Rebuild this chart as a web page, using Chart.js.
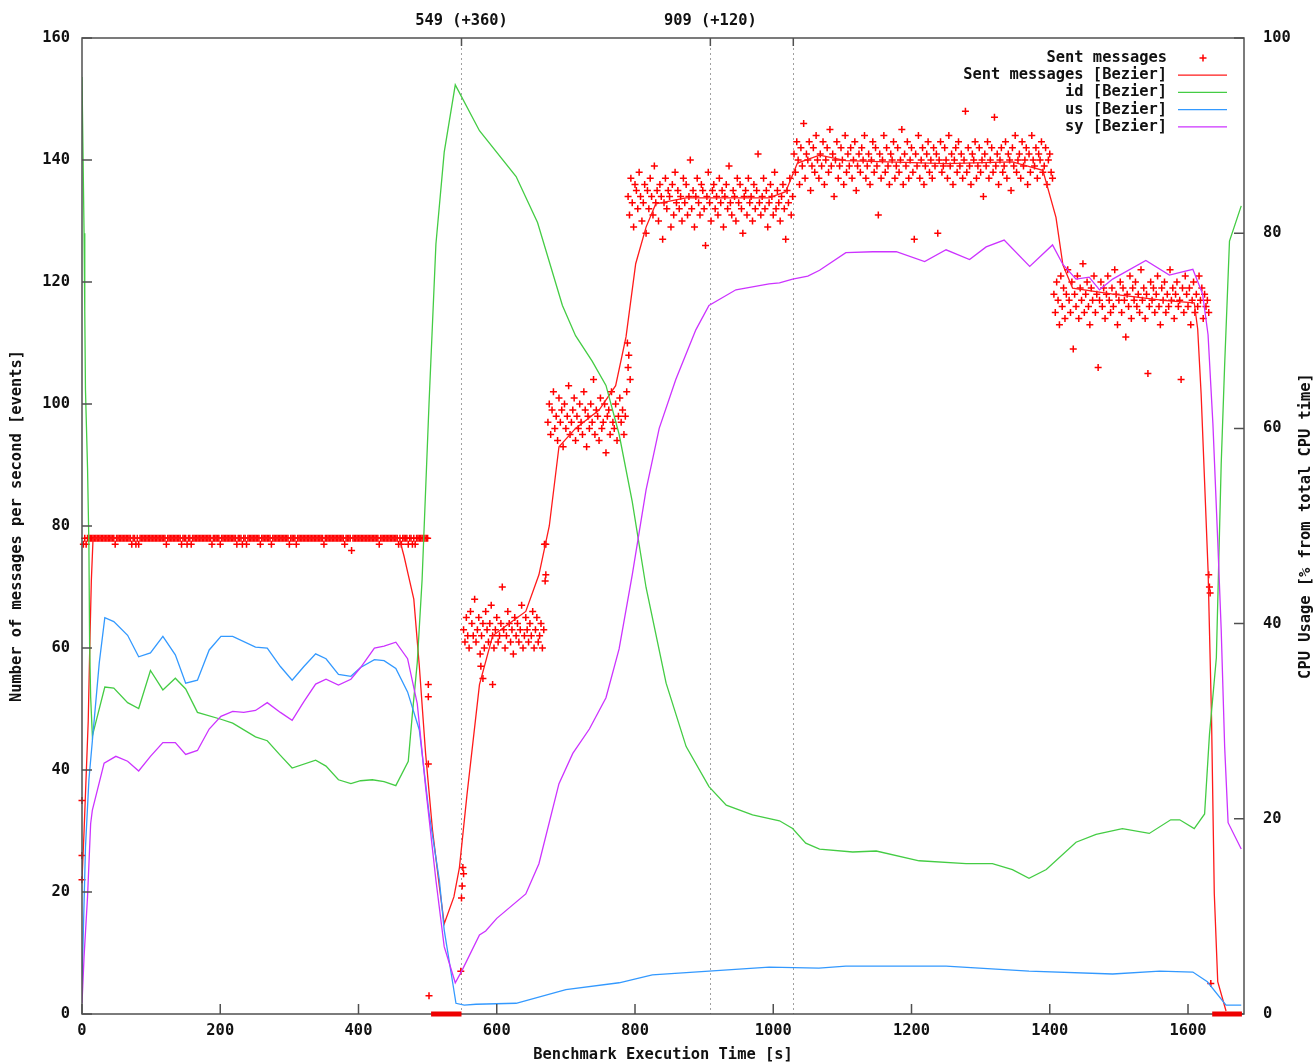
<!DOCTYPE html>
<html>
<head>
<meta charset="utf-8">
<script src="https://cdn.jsdelivr.net/npm/chart.js"></script>
<style>
  body { margin: 0; background: #fff; }
  #wrap { width: 1315px; height: 1064px; position: relative; }
</style>
</head>
<body>
<div id="wrap"><canvas id="bench"></canvas></div>

<script>
// sent messages, one sample every 2 s, one array per load step
var sentStep = 2;
var sentPhaseStart = [2, 552, 674, 790, 1030, 1406];

var sentFlat = [
  77,78,77,78,78,78,78,78,78,78,78,78,78,78,78,78,78,78,78,78,78,78,78,77,78,
  78,78,78,78,78,78,78,78,78,78,77,78,78,77,78,77,78,78,78,78,78,78,78,78,78,
  78,78,78,78,78,78,78,78,78,78,77,78,78,78,78,78,78,78,78,78,78,77,78,78,78,
  77,78,78,77,78,78,78,78,78,78,78,78,78,78,78,78,78,78,77,78,78,78,78,78,77,
  78,78,78,78,78,78,78,78,78,78,78,77,78,78,78,77,78,78,77,78,78,78,78,78,78,
  78,78,78,77,78,78,78,78,78,78,78,77,78,78,78,78,78,78,78,78,78,78,78,78,77,
  78,78,78,78,77,78,78,78,78,78,78,78,78,78,78,78,78,78,78,78,78,78,78,78,77,
  78,78,78,78,78,78,78,78,78,78,78,78,78,78,77,78,78,78,78,76,78,78,78,78,78,
  78,78,78,78,78,78,78,78,78,78,78,78,78,78,77,78,78,78,78,78,78,78,78,78,78,
  78,78,78,77,78,77,78,78,78,78,77,78,78,77,78,77,78,78,78,78,78,78,78,78,78
];
var sentLoad1 = [
  63,61,65,62,60,66,64,62,68,61,63,65,59,62,64,60,66,63,61,64,
  67,62,60,63,65,61,62,64,70,63,60,62,66,64,61,63,59,65,62,64,
  61,63,67,60,62,65,63,61,64,62,66,60,63,65,61,62,64,60,63
];
var sentLoad2 = [
  97,100,95,99,102,96,98,94,101,97,99,93,100,96,98,103,95,97,99,101,
  94,98,96,100,97,95,102,99,93,98,96,100,97,104,95,99,98,94,101,96,
  97,100,92,98,99,95,102,97,96,100,94,98,101,97,99,95,98
];
var sentLoad3 = [
  134,131,137,133,129,136,135,132,138,134,130,133,136,128,135,132,137,134,131,139,
  133,135,130,136,134,127,133,137,132,135,134,129,136,131,138,133,135,132,134,130,
  137,133,136,131,134,140,132,135,129,134,137,133,131,136,135,132,126,134,138,133,
  130,135,136,132,134,131,137,133,135,129,134,136,132,139,133,131,135,134,130,137,
  133,136,132,128,134,135,131,137,133,134,130,136,132,135,141,133,131,134,137,132,
  135,129,133,136,134,131,138,132,135,133,130,134,136,132,127,135,133,137,131,134
];
var sentLoad4 = [
  141,138,143,140,136,142,139,146,137,141,140,143,135,139,142,138,144,140,137,141,
  139,143,136,140,142,138,145,139,141,134,140,143,137,139,142,140,136,144,138,141,
  139,142,137,140,143,135,139,141,138,142,140,144,137,139,141,136,140,143,138,142,
  139,131,141,137,140,144,138,142,139,136,141,140,143,137,139,142,138,140,145,136,
  141,139,143,137,140,142,138,127,141,139,144,137,140,142,136,139,141,143,138,140,
  137,142,139,141,128,140,143,138,139,142,140,137,144,139,141,136,140,142,138,143,
  139,141,137,140,148,138,142,139,136,141,140,143,137,139,142,138,140,134,141,139,
  143,137,140,142,138,147,139,141,136,140,142,138,139,143,137,141,140,135,142,139,
  144,138,140,141,137,143,139,140,142,136,141,138,144,140,139,142,137,141,140,143,
  138,139,142,136,140,141,138,137
];
var sentLoad5 = [
  118,115,120,117,113,121,116,119,114,118,122,117,115,120,109,118,116,121,114,119,
  117,123,115,118,120,116,113,119,117,121,115,118,106,117,120,116,119,114,118,121,
  117,115,119,116,122,118,113,117,120,115,119,117,111,118,116,121,114,119,117,120,
  116,118,115,122,117,119,114,118,105,116,120,117,119,115,118,121,116,113,119,117,
  120,115,118,116,122,117,119,114,118,120,116,117,104,119,115,121,118,116,119,113,
  117,120,115,118,116,121,117,119,114,118,116,117,115
];
// single readings outside the regular steps
var sentExtraTime  = [0, 0, 0, 501, 501, 501, 502, 548, 549, 550, 551, 552, 577, 580, 594, 669, 670, 671, 671, 788, 789, 790, 791, 793, 1630, 1631, 1632, 1633];
var sentExtraValue = [22, 26, 35, 54, 52, 41, 3, 7, 19, 21, 24, 23, 57, 55, 54, 77, 71, 77, 72, 102, 110, 106, 108, 104, 72, 70, 69, 5];

var sentBezierTime  = [0,3,9,11.6,13.5,16,459,466,472,480,488,497,507,517,524,538,546,557,575,594,618,642,661,676,690,714,748,772,787,801,816,830,874,922,994,1018,1035,1067,1105,1250,1346,1390,1409,1419,1433,1491,1564,1609,1614,1619,1624,1629,1634,1638,1643,1655];
var sentBezierValue = [22,30,48,62,71,78,78,75,72,68,57,42.8,30.2,20.9,14.8,19.2,24,36,54,62,64,66,72,80,93,96,99,103,111,123,129,132.8,133.8,133.8,133.8,134.8,139.5,140.8,139.9,139.4,139.7,138.3,130.6,122.8,119,118,117,116.6,112.3,101.6,87.2,72.8,48.7,19.8,5.3,0.5];

// CPU usage in percent
var idTime  = [0,3,4,5,8,10,11,12.5,15,33,46,66,82,99,117,135,150,167,201,218,251,268,287,304,338,353,371,389,403,420,437,454,472,478,485,492,502,512,524,540,575,628,659,695,714,738,758,777,796,816,845,874,907,932,970,1009,1028,1047,1067,1115,1149,1211,1279,1317,1346,1370,1395,1438,1467,1505,1544,1575,1588,1609,1624,1631,1641,1648,1653,1660,1677];
var idValue = [96,80,72,64,56,48,38,32.5,28.5,33.5,33.4,31.9,31.3,35.2,33.2,34.4,33.3,30.9,30.2,29.8,28.4,28.0,26.5,25.2,26.0,25.4,24.0,23.6,23.9,24.0,23.8,23.4,25.9,30.8,36.0,44.5,62.5,78.9,88.3,95.2,90.5,85.8,81.1,72.6,69.5,66.9,64.4,59.4,52.5,43.7,33.9,27.4,23.3,21.4,20.4,19.8,19.0,17.5,16.9,16.6,16.7,15.7,15.4,15.4,14.8,13.9,14.8,17.6,18.4,19.0,18.5,19.9,19.9,19.0,20.5,28.6,36.5,56.3,66.5,79.2,82.8];

var usTime  = [0,5,10,15,25,33,46,66,82,99,117,135,150,167,184,201,218,251,268,287,304,321,338,353,371,389,403,423,437,454,471,488,502,517,524,534,541,553,570,628,700,777,825,907,994,1066,1105,1250,1370,1491,1559,1607,1628,1655,1677];
var usValue = [3,17,24,28,36,40.6,40.2,38.8,36.6,37.0,38.7,36.8,33.9,34.2,37.3,38.7,38.7,37.6,37.5,35.6,34.2,35.6,36.9,36.4,34.8,34.6,35.5,36.3,36.2,35.4,33.0,29.1,20.6,13.7,8.6,4.2,1.1,0.9,1.0,1.1,2.5,3.2,4.0,4.4,4.8,4.7,4.9,4.9,4.4,4.1,4.4,4.3,3.3,0.9,0.9];

var syTime  = [0,3,8,12.5,15,32,49,66,82,99,117,135,150,167,184,201,218,234,251,268,287,304,321,338,353,371,389,403,423,437,454,471,485,497,512,524,540,550,575,584,600,642,661,690,710,734,758,777,796,816,835,859,888,907,946,994,1009,1028,1050,1067,1105,1144,1178,1219,1250,1284,1308,1334,1371,1404,1419,1438,1457,1472,1491,1539,1573,1607,1621,1629,1636,1643,1648,1653,1658,1677];
var syValue = [1.1,5.9,12.0,19.5,20.9,25.7,26.4,25.9,24.9,26.4,27.8,27.8,26.6,27.0,29.2,30.5,31.0,30.9,31.1,31.9,30.9,30.1,32.0,33.8,34.3,33.7,34.3,35.5,37.5,37.7,38.1,36.4,31.8,23.3,13.7,6.9,3.2,4.5,8.1,8.5,9.8,12.3,15.4,23.6,26.7,29.2,32.4,37.4,45.0,53.7,60.0,65.0,70.1,72.6,74.2,74.8,74.9,75.3,75.6,76.2,78.0,78.1,78.1,77.1,78.3,77.3,78.6,79.3,76.6,78.8,76.8,75.3,75.5,74.2,75.3,77.2,75.7,76.3,73.8,69.6,60.5,48.5,39.4,27.4,19.6,16.9];

// phase markers on the top axis and idle periods on the bottom
var markerTime  = [549, 909, 1029];
var markerLabel = ['549 (+360)', '909 (+120)', ''];
var idleStart = [505, 1635];
var idleEnd   = [549, 1678];

var RED = '#ff1a1a', GREEN = '#44cc44', BLUE = '#3399ff', PURPLE = '#cc33ff';
var FONT = 'bold 15.4px "DejaVu Sans Mono", monospace';
var INK = '#111';
var BORDER = '#505050';

function pairs(t, v) {
  return t.map(function(x, i) { return { x: x, y: v[i] }; });
}

var sentPoints = [];
[sentFlat, sentLoad1, sentLoad2, sentLoad3, sentLoad4, sentLoad5].forEach(function(arr, p) {
  arr.forEach(function(v, k) {
    sentPoints.push({ x: sentPhaseStart[p] + k * sentStep, y: v });
  });
});
sentExtraTime.forEach(function(t, i) {
  sentPoints.push({ x: t, y: sentExtraValue[i] });
});

var legendRows = [
  { label: 'Sent messages', color: '#ff0000', cross: true },
  { label: 'Sent messages [Bezier]', color: RED },
  { label: 'id [Bezier]', color: GREEN },
  { label: 'us [Bezier]', color: BLUE },
  { label: 'sy [Bezier]', color: PURPLE }
];

var gnuplotFrame = {
  id: 'gnuplotFrame',
  beforeDatasetsDraw: function(chart) {
    var ctx = chart.ctx, a = chart.chartArea, x = chart.scales.x;
    ctx.save();
    ctx.strokeStyle = '#a0a0a0';
    ctx.lineWidth = 1;
    ctx.setLineDash([2, 3]);
    markerTime.forEach(function(t) {
      var px = Math.round(x.getPixelForValue(t)) + 0.5;
      ctx.beginPath();
      ctx.moveTo(px, a.top);
      ctx.lineTo(px, a.bottom);
      ctx.stroke();
    });
    ctx.restore();
  },
  afterDraw: function(chart) {
    var ctx = chart.ctx, a = chart.chartArea;
    var x = chart.scales.x, y = chart.scales.y, y1 = chart.scales.y1;
    ctx.save();

    // frame and inward ticks
    ctx.strokeStyle = BORDER;
    ctx.lineWidth = 1.5;
    ctx.strokeRect(a.left, a.top, a.right - a.left, a.bottom - a.top);
    ctx.beginPath();
    x.ticks.forEach(function(t) {
      var px = x.getPixelForValue(t.value);
      ctx.moveTo(px, a.bottom); ctx.lineTo(px, a.bottom - 10);
    });
    y.ticks.forEach(function(t) {
      var py = y.getPixelForValue(t.value);
      ctx.moveTo(a.left, py); ctx.lineTo(a.left + 10, py);
    });
    y1.ticks.forEach(function(t) {
      var py = y1.getPixelForValue(t.value);
      ctx.moveTo(a.right, py); ctx.lineTo(a.right - 10, py);
    });
    markerTime.forEach(function(t) {
      var px = x.getPixelForValue(t);
      ctx.moveTo(px, a.top); ctx.lineTo(px, a.top + 8);
    });
    ctx.stroke();

    // idle periods
    ctx.fillStyle = '#ee0000';
    idleStart.forEach(function(s, i) {
      var x0 = x.getPixelForValue(s), x1 = x.getPixelForValue(idleEnd[i]);
      ctx.fillRect(x0, a.bottom - 2.5, x1 - x0, 5);
    });

    ctx.font = FONT;
    ctx.fillStyle = INK;
    ctx.textBaseline = 'middle';

    // top axis labels
    ctx.textAlign = 'center';
    markerTime.forEach(function(t, i) {
      if (markerLabel[i]) ctx.fillText(markerLabel[i], x.getPixelForValue(t), 21);
    });

    // axis titles
    ctx.fillText('Benchmark Execution Time [s]', (a.left + a.right) / 2, 1055);
    ctx.save();
    ctx.translate(17, (a.top + a.bottom) / 2);
    ctx.rotate(-Math.PI / 2);
    ctx.fillText('Number of messages per second [events]', 0, 0);
    ctx.restore();
    ctx.save();
    ctx.translate(1306, (a.top + a.bottom) / 2);
    ctx.rotate(-Math.PI / 2);
    ctx.fillText('CPU Usage [% from total CPU time]', 0, 0);
    ctx.restore();

    // key
    ctx.textAlign = 'right';
    legendRows.forEach(function(r, i) {
      var ly = 58 + i * 17.2;
      ctx.fillStyle = INK;
      ctx.fillText(r.label, 1167, ly);
      ctx.strokeStyle = r.color;
      ctx.lineWidth = r.cross ? 1.5 : 1.3;
      ctx.beginPath();
      if (r.cross) {
        ctx.moveTo(1199.5, ly); ctx.lineTo(1206.5, ly);
        ctx.moveTo(1203, ly - 3.5); ctx.lineTo(1203, ly + 3.5);
      } else {
        ctx.moveTo(1178, ly); ctx.lineTo(1227, ly);
      }
      ctx.stroke();
    });

    ctx.restore();
  }
};

var tickFont = { family: '"DejaVu Sans Mono", monospace', size: 15.4, weight: 'bold' };
function plainLabel(v) { return String(v); }

new Chart(document.getElementById('bench'), {
  type: 'scatter',
  data: {
    datasets: [
      {
        label: 'Sent messages',
        data: sentPoints,
        yAxisID: 'y',
        pointStyle: 'cross',
        pointRadius: 3.5,
        borderColor: '#ff0000',
        backgroundColor: '#ff0000',
        borderWidth: 1.5,
        clip: 6,
        order: 5
      },
      {
        label: 'Sent messages [Bezier]',
        data: pairs(sentBezierTime, sentBezierValue),
        yAxisID: 'y',
        showLine: true,
        pointRadius: 0,
        borderColor: RED,
        borderWidth: 1.3,
        order: 4
      },
      {
        label: 'id [Bezier]',
        data: pairs(idTime, idValue),
        yAxisID: 'y1',
        showLine: true,
        pointRadius: 0,
        borderColor: GREEN,
        borderWidth: 1.3,
        order: 3
      },
      {
        label: 'us [Bezier]',
        data: pairs(usTime, usValue),
        yAxisID: 'y1',
        showLine: true,
        pointRadius: 0,
        borderColor: BLUE,
        borderWidth: 1.3,
        order: 2
      },
      {
        label: 'sy [Bezier]',
        data: pairs(syTime, syValue),
        yAxisID: 'y1',
        showLine: true,
        pointRadius: 0,
        borderColor: PURPLE,
        borderWidth: 1.3,
        order: 1
      }
    ]
  },
  options: {
    responsive: true,
    maintainAspectRatio: false,
    animation: false,
    events: [],
    layout: { padding: { top: 38, left: 0, right: 0, bottom: 0 } },
    plugins: {
      legend: { display: false },
      tooltip: { enabled: false }
    },
    scales: {
      x: {
        type: 'linear',
        position: 'bottom',
        min: 0,
        max: 1681,
        grid: { display: true, drawOnChartArea: false, drawTicks: false },
        border: { display: false },
        ticks: { stepSize: 200, includeBounds: false, padding: 8, color: INK, font: tickFont, maxRotation: 0, callback: plainLabel },
        afterBuildTicks: function(s) { s.ticks = s.ticks.filter(function(t) { return t.value % 200 === 0; }); },
        afterFit: function(s) { s.height = 50; }
      },
      y: {
        position: 'left',
        min: 0,
        max: 160,
        grid: { display: true, drawOnChartArea: false, drawTicks: false },
        border: { display: false },
        ticks: { stepSize: 20, padding: 12, color: INK, font: tickFont, callback: plainLabel },
        afterFit: function(s) { s.width = 82; }
      },
      y1: {
        position: 'right',
        min: 0,
        max: 100,
        grid: { display: true, drawOnChartArea: false, drawTicks: false },
        border: { display: false },
        ticks: { stepSize: 20, padding: 19, color: INK, font: tickFont, callback: plainLabel },
        afterFit: function(s) { s.width = 71; }
      }
    }
  },
  plugins: [gnuplotFrame]
});
</script>
</body>
</html>
